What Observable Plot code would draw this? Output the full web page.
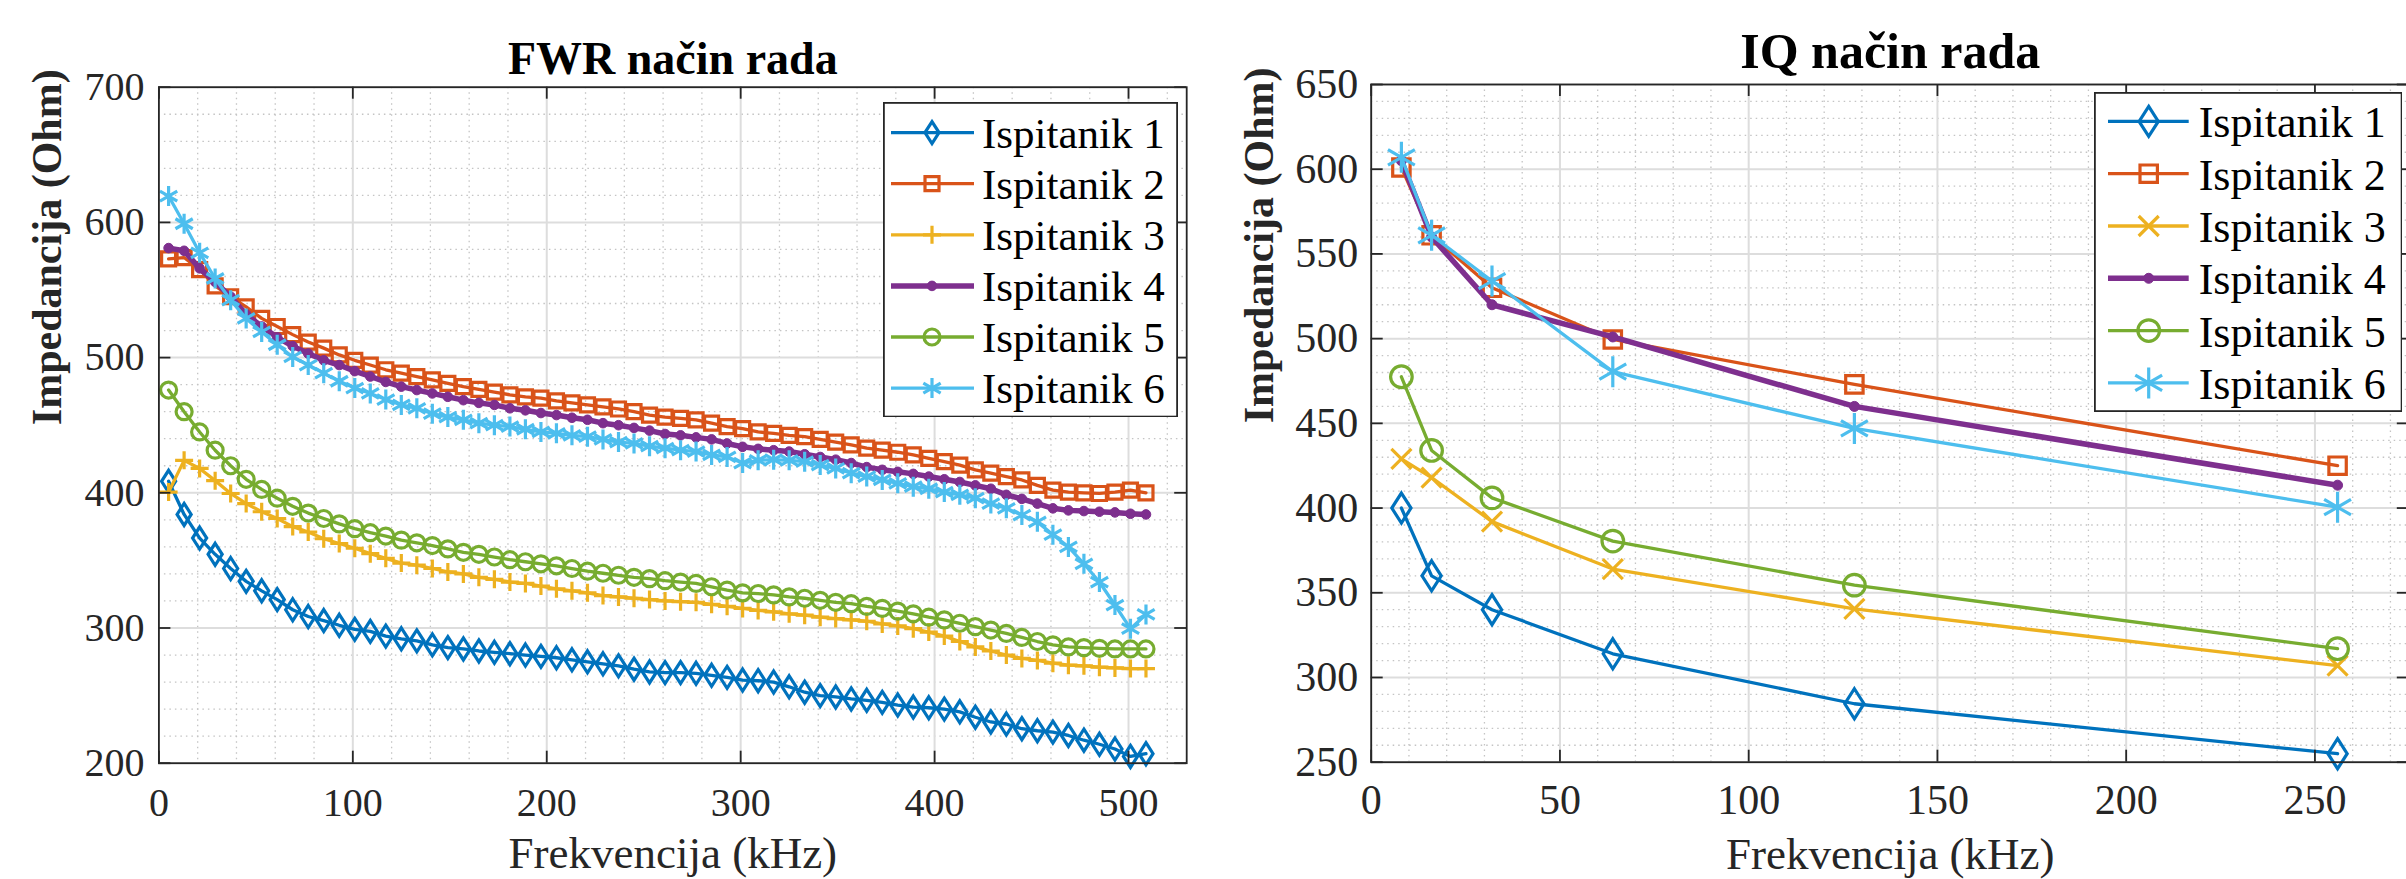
<!DOCTYPE html>
<html><head><meta charset="utf-8">
<script src="https://cdn.jsdelivr.net/npm/d3@7"></script>
<script src="https://cdn.jsdelivr.net/npm/@observablehq/plot@0.6"></script>
<style>
html,body{margin:0;padding:0;background:#fff;overflow:hidden;width:2406px;height:879px;}
#root{position:relative;width:2406px;height:879px;overflow:hidden;background:#fff;}
.panel{position:absolute;top:0;}
.legend{position:absolute;}
</style></head><body><div id="root"></div><script>
// ---------------- DATA ----------------
const seriesNames = ["Ispitanik 1","Ispitanik 2","Ispitanik 3","Ispitanik 4","Ispitanik 5","Ispitanik 6"];
const seriesColors = ["#0072BD","#D95319","#EDB120","#7E2F8E","#77AC30","#4DBEEE"];

// FWR mode (kHz)
const fwrFreq = [5,13,21,29,37,45,53,61,69,77,85,93,101,109,117,125,133,141,149,157,165,173,181,189,197,205,213,221,229,237,245,253,261,269,277,285,293,301,309,317,325,333,341,349,357,365,373,381,389,397,405,413,421,429,437,445,453,461,469,477,485,493,501,509];
const fwr1 = [408.5,384,366.5,354.5,344,334.5,327.5,321,313.5,308.5,305.5,302,299,297.5,294,292,290.5,287.5,285.5,284.5,283,282,281,280,279,278,276.5,275,273.5,272,269.5,267.5,267,267,266.5,265,263.5,261.5,261,260,256.5,252.5,250,249,247.5,246.5,245,243,241.5,241,240,238,234,230.5,229,225.5,224,223,220.5,217,214,210.5,205,207];
const fwr2 = [573,574,565,553,545,537.5,529,523,517,511.5,507,502,498,494.5,491,488.5,486,483.5,481,478.5,476.5,474.5,472.5,471,470,468,466.5,465,463.5,462,460,457.5,456,455,454,451.5,449,447.5,445,444,442.5,441.5,439.5,437.5,435.5,433,431.5,430,428,425.5,423,420.5,417,414.5,412,409.5,405.5,402,400.5,400,399.5,400.5,402,400];
const fwr3 = [400.5,424,418,409,399.5,392,386,381,375,371,366,362.5,359,355,351.5,348,346.5,344,341.5,340,337.5,336,334,333,331,329,327.5,326,324,323,322,321,320,319.5,319,317.5,316,314.5,313,312,310.5,309.5,308,307,306,305,303,301.5,299.5,297,294,290,286,283,280,277.5,276,274,272.5,272,271,270.5,270,270];
const fwr4 = [581,579,566,556,545,532,523,515,508.5,503,498,494.5,490,486,482,478.5,476,473.5,471,468.5,466.5,465,462.5,461,459,457.5,455.5,454,451.5,450,448,446,443.5,442.5,441,439.5,436.5,434,432.5,431.5,430.5,428.5,426.5,424.5,422,419,417,415.5,414,412,410,408,405.5,403,398.5,395.5,392,388.5,387,386.5,386,385.5,384.5,384];
const fwr5 = [476,460,445,431.5,420,410,402.5,396,390,385,381,377,373.5,370.5,368,365,363,361,358.5,356,354.5,352.5,350.5,349,347.5,346,344,342,340.5,339,337.5,336.5,335,334,333,330.5,328,326,325.5,324.5,323,322,320.5,319,318,316,314.5,312.5,310.5,308,306,303.5,301,298.5,296,293,290,287.5,286,285.5,285,284.5,284.5,284.5];
const fwr6 = [619.5,599,577.5,558.5,542.5,529,519,509.5,500.5,494.5,488.5,482.5,477.5,473.5,469,465,462.5,458.5,456,454,451.5,450,449,447,445,444,442.5,441.5,439.5,437.5,436.5,434.5,433,431.5,430.5,428,426.5,422,424,424.5,424,423,420.5,418,414.5,412,409.5,407,404.5,403,400.5,398.5,396,392,388.5,383.5,378.5,369,360,347.5,334,317,299.5,310];

// IQ mode (kHz)
const iqFreq = [8,16,32,64,128,256];
const iq1 = [400,360,340,314,284.5,255];
const iq2 = [601,561,530,499.5,473,425];
const iq3 = [429,418,392,364,340.5,307];
const iq4 = [605,560,520,501,460,413.5];
const iq5 = [477.5,434,406,380.5,354.5,317];
const iq6 = [607,561,534,480.5,447,400.5];

// Axis ticks
const fwrXTicks = [0,100,200,300,400,500];
const fwrYTicks = [200,300,400,500,600,700];
const iqXTicks = [0,50,100,150,200,250];
const iqYTicks = [250,300,350,400,450,500,550,600,650];

// ---------------- SYMBOLS ----------------
const rad = s => Math.sqrt(s/Math.PI);
const symDiamond = {draw(c,s){const r=rad(s),w=r*0.64;c.moveTo(0,-r);c.lineTo(w,0);c.lineTo(0,r);c.lineTo(-w,0);c.closePath();}};
const symSquare = {draw(c,s){const r=rad(s);c.moveTo(-r,-r);c.lineTo(r,-r);c.lineTo(r,r);c.lineTo(-r,r);c.closePath();}};
const symPlus = {draw(c,s){const r=rad(s);c.moveTo(0,-r);c.lineTo(0,r);c.moveTo(-r,0);c.lineTo(r,0);}};
const symTimes = {draw(c,s){const r=rad(s);c.moveTo(-r,-r);c.lineTo(r,r);c.moveTo(-r,r);c.lineTo(r,-r);}};
const symAsterisk = {draw(c,s){const r=rad(s),a=r*0.866,b=r*0.5;c.moveTo(0,-r);c.lineTo(0,r);c.moveTo(-a,-b);c.lineTo(a,b);c.moveTo(-a,b);c.lineTo(a,-b);}};
const symCircle = {draw(c,s){const r=rad(s);c.moveTo(r,0);c.arc(0,0,r,0,2*Math.PI);c.closePath();}};

const fwrStyle = [
  {sym:symDiamond,r:11},{sym:symSquare,r:7},{sym:symPlus,r:9},
  {sym:symCircle,r:4.8,filled:true},{sym:symCircle,r:8},{sym:symAsterisk,r:10}];
const iqStyle = [
  {sym:symDiamond,r:15},{sym:symSquare,r:8.7},{sym:symTimes,r:10},
  {sym:symCircle,r:5,filled:true},{sym:symCircle,r:10.8},{sym:symAsterisk,r:15.5}];

const FONT = '"Liberation Serif","Times New Roman",serif';
const AX = "#262626";
const root = document.getElementById("root");

function panel(cfg){
  const {left, width, height, mt, mb, ml, mr} = cfg;
  const H = height - mt - mb, W = width - ml - mr;
  const TL = 12;
  const marks = [
    Plot.ruleX(cfg.xMinor, {x:d=>d, stroke:"#c4c4c4", strokeWidth:1.3, strokeDasharray:"1.5,4"}),
    Plot.ruleY(cfg.yMinor, {y:d=>d, stroke:"#c4c4c4", strokeWidth:1.3, strokeDasharray:"1.5,4"}),
    Plot.ruleX(cfg.xTicks, {x:d=>d, stroke:"#dddddd", strokeWidth:2}),
    Plot.ruleY(cfg.yTicks, {y:d=>d, stroke:"#dddddd", strokeWidth:2}),
  ];
  cfg.series.forEach((vals,k)=>{
    const rows = cfg.freq.map((f,i)=>({f, z: vals[i]}));
    const st = cfg.style[k];
    marks.push(Plot.line(rows, {x:"f", y:"z", stroke: seriesColors[k], strokeWidth: k===3 ? 5.5 : 3.3, strokeLinejoin:"round"}));
    marks.push(Plot.dot(rows, {x:"f", y:"z", symbol: st.sym, r: st.r,
      stroke: seriesColors[k], fill: st.filled ? seriesColors[k] : "none", strokeWidth: st.filled ? 1 : 3.2}));
  });
  marks.push(
    Plot.tickX(cfg.xTicks, {x:d=>d, insetTop: H-TL, stroke:AX, strokeWidth:1.8}),
    Plot.tickX(cfg.xTicks, {x:d=>d, insetBottom: H-TL, stroke:AX, strokeWidth:1.8}),
    Plot.tickY(cfg.yTicks, {y:d=>d, insetRight: W-TL, stroke:AX, strokeWidth:1.8}),
    Plot.tickY(cfg.yTicks, {y:d=>d, insetLeft: W-TL, stroke:AX, strokeWidth:1.8}),
    Plot.frame({stroke:AX, strokeWidth:1.8}),
    Plot.text(cfg.xTicks, {x:d=>d, text:d=>String(d), frameAnchor:"bottom", lineAnchor:"top", dy:cfg.xtDy, fontSize:cfg.tickFont, fill:AX, fontFamily:FONT}),
    Plot.text(cfg.yTicks, {y:d=>d, text:d=>String(d), frameAnchor:"left", textAnchor:"end", lineAnchor:"middle", dx:cfg.ytDx, fontSize:cfg.tickFont, fill:AX, fontFamily:FONT}),
    Plot.text([cfg.title], {text:d=>d, frameAnchor:"top", lineAnchor:"top", dy:cfg.titleDy, fontSize:cfg.titleFont, fontWeight:"bold", fill:"#000", fontFamily:FONT}),
    Plot.text([cfg.xLabel], {text:d=>d, frameAnchor:"bottom", lineAnchor:"top", dy:cfg.xlDy, fontSize:45, fill:AX, fontFamily:FONT}),
    Plot.text([cfg.yLabel], {text:d=>d, frameAnchor:"left", lineAnchor:"top", rotate:-90, dx:cfg.ylDx, fontSize:42, fontWeight:"bold", fill:AX, fontFamily:FONT})
  );
  const svg = Plot.plot({
    width, height, marginTop:mt, marginBottom:mb, marginLeft:ml, marginRight:mr,
    x:{domain:cfg.xDomain, axis:null}, y:{domain:cfg.yDomain, axis:null},
    style:{fontFamily:FONT, background:"transparent", overflow:"visible"},
    marks
  });
  svg.classList.add("panel");
  svg.style.left = left + "px";
  root.appendChild(svg);
}

function legend(g, style){
  const svg = d3.create("svg").attr("class","legend").attr("width",g.width).attr("height",g.height)
    .style("left", g.left+"px").style("top", g.top+"px");
  svg.append("rect").attr("x",0.9).attr("y",0.9).attr("width",g.width-1.8).attr("height",g.height-1.8)
    .attr("fill","#fff").attr("stroke",AX).attr("stroke-width",1.8);
  seriesNames.forEach((name,k)=>{
    const y = g.row0 + k*g.step, st = style[k], c = seriesColors[k];
    svg.append("line").attr("x1",g.lx1).attr("x2",g.lx2).attr("y1",y).attr("y2",y)
      .attr("stroke",c).attr("stroke-width", k===3?5.5:3.3);
    svg.append("path").attr("transform",`translate(${g.sx},${y})`)
      .attr("d", d3.symbol(st.sym, Math.PI*st.r*st.r)())
      .attr("fill", st.filled? c : "none").attr("stroke", c).attr("stroke-width", st.filled?1:3.2);
    svg.append("text").attr("x",g.tx).attr("y",y+g.base).attr("font-family",FONT)
      .attr("font-size",g.font).attr("fill","#000").text(name);
  });
  root.appendChild(svg.node());
}

panel({
  left:0, width:1200, height:879, mt:86.7, mb:879-762.7, ml:158.4, mr:1200-1186.2,
  xDomain:[0,530], yDomain:[200,700],
  xTicks:fwrXTicks, yTicks:fwrYTicks,
  xMinor:d3.range(20,530,20).filter(v=>v%100), yMinor:d3.range(220,700,20).filter(v=>v%100),
  freq:fwrFreq, series:[fwr1,fwr2,fwr3,fwr4,fwr5,fwr6], style:fwrStyle,
  tickFont:40, xtDy:24, ytDx:-14.4,
  title:"FWR način rada", titleFont:46, titleDy:-46,
  xLabel:"Frekvencija (kHz)", xlDy:73, yLabel:"Impedancija (Ohm)", ylDx:-128
});
panel({
  left:1200, width:1215, height:879, mt:84, mb:879-761.7, ml:170.7, mr:1215-1208.8,
  xDomain:[0,275], yDomain:[250,650],
  xTicks:iqXTicks, yTicks:iqYTicks,
  xMinor:d3.range(10,275,10).filter(v=>v%50), yMinor:d3.range(260,650,10).filter(v=>v%50),
  freq:iqFreq, series:[iq1,iq2,iq3,iq4,iq5,iq6], style:iqStyle,
  tickFont:42, xtDy:22, ytDx:-13,
  title:"IQ način rada", titleFont:50, titleDy:-52,
  xLabel:"Frekvencija (kHz)", xlDy:74.5, yLabel:"Impedancija (Ohm)", ylDx:-128
});
legend({left:882.7, top:101.7, width:295, height:315.5, row0:30.6, step:51.1, lx1:8, lx2:91, sx:49, tx:99, base:15, font:43}, fwrStyle);
legend({left:2093.8, top:92.3, width:308.5, height:320, row0:29.4, step:52.3, lx1:14, lx2:94.7, sx:54.7, tx:104.7, base:16, font:44}, iqStyle);
</script></body></html>
